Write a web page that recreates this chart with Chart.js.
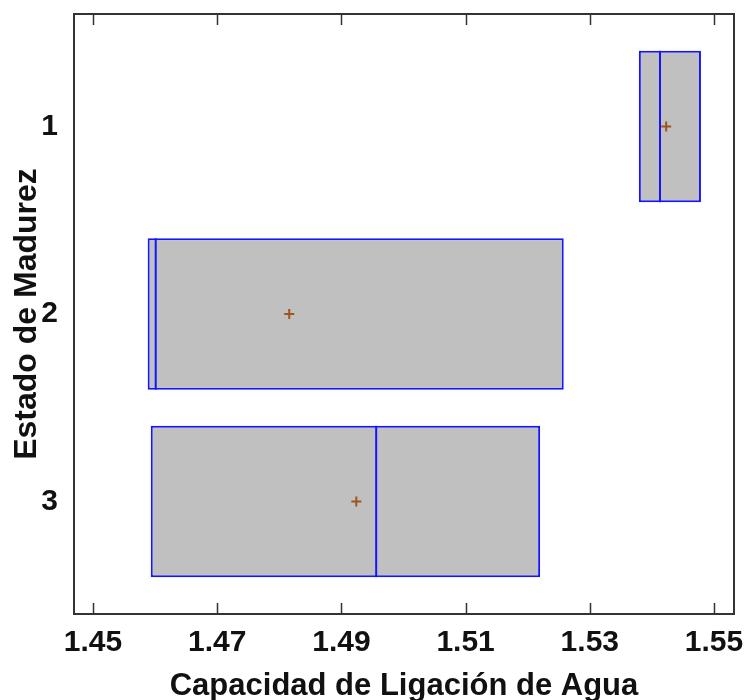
<!DOCTYPE html>
<html>
<head>
<meta charset="utf-8">
<script src="https://cdn.jsdelivr.net/npm/chart.js@4.4.0/dist/chart.umd.min.js"></script>
<style>
  body { margin: 0; background: #fff; }
</style>
</head>
<body>
<div style="width:749px;height:700px">
  <canvas id="chart" width="749" height="700"></canvas>
</div>
<script>
// Estados de madurez (eje vertical)
const estados = [1, 2, 3];
// cuartiles, medianas y medias de la capacidad de ligación de agua
const q1 = [1.5379, 1.4588, 1.4593];
const q3 = [1.5479, 1.5258, 1.5220];
const medianas = [1.5413, 1.4601, 1.4956];
const medias = [1.5423, 1.4816, 1.4924];
const xTicks = [1.45, 1.47, 1.49, 1.51, 1.53, 1.55];

const fuente = "'Liberation Sans', Arial, sans-serif";
const azul = '#1414ff';

// linea de la mediana dentro de cada caja
const medianaPlugin = {
  id: 'mediana',
  afterDatasetDraw(chart, args) {
    if (args.meta.type !== 'bar') return;
    const { ctx, scales: { x } } = chart;
    ctx.save();
    ctx.strokeStyle = azul;
    ctx.lineWidth = 2;
    args.meta.data.forEach((bar, i) => {
      const px = x.getPixelForValue(medianas[i]);
      ctx.beginPath();
      ctx.moveTo(px, bar.y - bar.height / 2);
      ctx.lineTo(px, bar.y + bar.height / 2);
      ctx.stroke();
    });
    ctx.restore();
  }
};

// marco y marcas hacia dentro arriba y abajo
const marcoPlugin = {
  id: 'marco',
  afterDatasetsDraw(chart) {
    const { ctx, chartArea: a, scales: { x } } = chart;
    ctx.save();
    ctx.strokeStyle = '#333';
    ctx.lineWidth = 2;
    ctx.strokeRect(a.left, a.top, a.right - a.left, a.bottom - a.top);
    ctx.lineWidth = 1.5;
    ctx.beginPath();
    xTicks.forEach(v => {
      const px = Math.round(x.getPixelForValue(v)) + 0.5;
      ctx.moveTo(px, a.bottom);
      ctx.lineTo(px, a.bottom - 11);
      ctx.moveTo(px, a.top);
      ctx.lineTo(px, a.top + 11);
    });
    ctx.stroke();
    ctx.restore();
  }
};

new Chart(document.getElementById('chart'), {
  data: {
    datasets: [
      {
        type: 'bar',
        order: 2,
        indexAxis: 'y',
        data: estados.map((e, i) => ({ y: e, x: [q1[i], q3[i]] })),
        backgroundColor: '#c0c0c0',
        borderColor: azul,
        borderWidth: 2,
        borderSkipped: false,
        categoryPercentage: 0.807,
        barPercentage: 1
      },
      {
        type: 'scatter',
        order: 1,
        data: estados.map((e, i) => ({ x: medias[i], y: e })),
        pointStyle: 'cross',
        radius: 5,
        borderWidth: 2,
        borderColor: '#a2521e',
        backgroundColor: '#a2521e'
      }
    ]
  },
  options: {
    responsive: false,
    animation: false,
    layout: { padding: { top: 14, right: 15, left: 0, bottom: 0 } },
    plugins: { legend: { display: false }, tooltip: { enabled: false } },
    scales: {
      x: {
        type: 'linear',
        min: 1.44694,
        max: 1.55322,
        offset: false,
        grid: { display: false, drawTicks: false },
        border: { display: false },
        afterBuildTicks: s => { s.ticks = xTicks.map(v => ({ value: v })); },
        afterFit: s => { s.height = 86; s.paddingLeft = 0; s.paddingRight = 0; },
        ticks: {
          autoSkip: false,
          maxRotation: 0,
          padding: 11,
          color: '#111',
          font: { family: fuente, size: 30, weight: 'bold' },
          callback: v => v.toFixed(2)
        },
        title: {
          display: true,
          text: 'Capacidad de Ligación de Agua',
          color: '#111',
          padding: 0,
          font: { family: fuente, size: 31, weight: 'bold', lineHeight: 0.9 }
        }
      },
      y: {
        type: 'linear',
        min: 0.4,
        max: 3.6,
        reverse: true,
        offset: false,
        grid: { display: false, drawTicks: false, offset: false },
        border: { display: false },
        afterBuildTicks: s => { s.ticks = estados.map(v => ({ value: v })); },
        afterFit: s => { s.width = 74; s.paddingTop = 0; s.paddingBottom = 0; },
        ticks: {
          padding: 16,
          color: '#111',
          font: { family: fuente, size: 30, weight: 'bold' },
          callback: v => v
        },
        title: {
          display: true,
          text: 'Estado de Madurez',
          color: '#111',
          padding: { top: 8, bottom: 0 },
          font: { family: fuente, size: 32, weight: 'bold', lineHeight: 1.2 }
        }
      }
    }
  },
  plugins: [medianaPlugin, marcoPlugin]
});
</script>
</body>
</html>
